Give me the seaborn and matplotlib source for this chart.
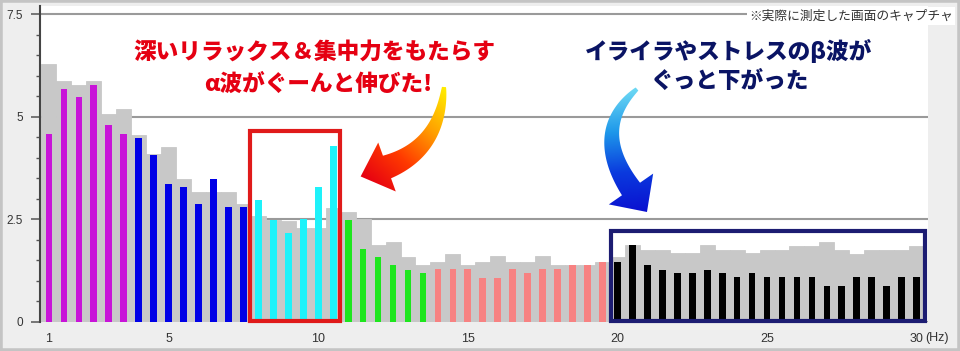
import numpy as np
import pandas as pd
import matplotlib
matplotlib.use("Agg")
import matplotlib.pyplot as plt
import seaborn as sns
from matplotlib.path import Path
from matplotlib.patches import PathPatch, Rectangle
from matplotlib.colors import LinearSegmentedColormap

# ---------------- data ----------------
freqs = np.arange(1.0, 30.01, 0.5)  # Hz, 59 bins

before = [6.28, 5.87, 5.77, 5.88, 5.08, 5.19,
          4.56, 4.10, 4.27, 3.48, 3.16, 3.16, 3.16, 2.87,
          2.59, 2.48, 2.45, 2.29, 2.28, 2.79,
          2.67, 2.51, 1.88, 1.96, 1.58, 1.39,
          1.47, 1.66, 1.39, 1.47, 1.60, 1.47, 1.47, 1.60, 1.39, 1.39, 1.39, 1.47,
          1.59, 1.88, 1.76, 1.76, 1.67, 1.67, 1.87, 1.76, 1.76, 1.67, 1.76,
          1.76, 1.86, 1.86, 1.96, 1.76, 1.66, 1.76, 1.76, 1.76, 1.86]

after = [4.57, 5.68, 5.48, 5.77, 4.80, 4.57,
         4.48, 4.08, 3.37, 3.28, 2.88, 3.48, 2.80, 2.80,
         2.98, 2.49, 2.17, 2.50, 3.28, 4.29,
         2.48, 1.77, 1.59, 1.39, 1.27, 1.19,
         1.28, 1.28, 1.28, 1.08, 1.08, 1.28, 1.20, 1.28, 1.28, 1.39, 1.39, 1.47,
         1.47, 1.88, 1.39, 1.27, 1.19, 1.19, 1.27, 1.19, 1.09, 1.19, 1.09,
         1.09, 1.09, 1.09, 0.88, 0.88, 1.09, 1.09, 0.88, 1.09, 1.09]

band_names = ["delta", "theta", "alpha", "smr", "mid_beta", "high_beta"]
band_sizes = [6, 8, 6, 6, 12, 21]
band_colors = {"delta": "#c814d8", "theta": "#0000e6", "alpha": "#1ef2fa",
               "smr": "#1ee61e", "mid_beta": "#f78282", "high_beta": "#000000"}
bands = [b for b, n in zip(band_names, band_sizes) for _ in range(n)]

xtick_vals = [1, 5, 10, 15, 20, 25, 30]
xtick_labels = ["1", "5", "10", "15", "20", "25", "30"]
ytick_vals = [0, 2.5, 5, 7.5]
ytick_labels = ["0", "2.5", "5", "7.5"]

df = pd.DataFrame({"freq": freqs, "before": before, "after": after, "band": bands})

# ---------------- figure ----------------
W, H = 960, 351
fig = plt.figure(figsize=(W / 100, H / 100), dpi=100, facecolor="#eeeeee")
ax = fig.add_axes([40 / W, 29 / H, 888 / W, 316 / H])
ax.set_facecolor("white")

sns.barplot(data=df, x="freq", y="before", native_scale=True, width=1.0,
            color="#c8c8c8", saturation=1, linewidth=0.6, edgecolor="#c8c8c8",
            errorbar=None, ax=ax, zorder=2)
sns.barplot(data=df, x="freq", y="after", hue="band", palette=band_colors,
            hue_order=band_names, native_scale=True, width=0.45, dodge=False,
            saturation=1, linewidth=0, errorbar=None, legend=False, ax=ax, zorder=3)

ax.set_xlim(0.70, 30.38)
ax.set_ylim(0, 7.7)
ax.set_xlabel("")
ax.set_ylabel("")

num_font = ["Liberation Sans", "DejaVu Sans"]
ax.set_xticks(xtick_vals)
ax.set_xticklabels(xtick_labels, family=num_font, fontsize=9, color="#333333")
ax.set_yticks(ytick_vals)
ax.set_yticklabels(ytick_labels, family=num_font, fontsize=8.5, color="#333333")
ax.set_yticks(np.arange(0, 7.51, 0.5), minor=True)
ax.tick_params(axis="x", length=0, pad=8)
ax.tick_params(axis="y", which="major", length=6.5, width=1.1, color="#555555", pad=6)
ax.tick_params(axis="y", which="minor", length=3, width=1.0, color="#555555")

for s in ["top", "right", "bottom"]:
    ax.spines[s].set_visible(False)
ax.spines["left"].set_color("#444444")
ax.spines["left"].set_linewidth(1.5)

ax.set_axisbelow(True)
ax.yaxis.grid(True, which="major", color="#9a9a9a", linewidth=1.5)
ax.xaxis.grid(False)

# band highlight boxes
ax.add_patch(Rectangle((7.73, 0.03), 10.74 - 7.73, 4.65 - 0.03, fill=False,
                       edgecolor="#e01a1a", linewidth=3, zorder=6, clip_on=False))
ax.add_patch(Rectangle((19.77, 0.03), 30.29 - 19.77, 2.22 - 0.03, fill=False,
                       edgecolor="#1c1c72", linewidth=3, zorder=6, clip_on=False))

# ---------------- overlay (annotations) ----------------
ov = fig.add_axes([0, 0, 1, 1], zorder=10)
ov.set_xlim(0, W)
ov.set_ylim(H, 0)
ov.axis("off")
ov.patch.set_alpha(0)

jp = ["Noto Sans CJK JP", "DejaVu Sans"]
red = "#e50012"
navy = "#0a1464"
fs = 16.3
ov.text(314, 52, "深いリラックス＆集中力をもたらす", ha="center", va="center",
        fontsize=fs, fontweight="heavy", color=red, family=jp)
ov.text(318, 84, "α波がぐーんと伸びた!", ha="center", va="center",
        fontsize=fs, fontweight="heavy", color=red, family=jp)
ov.text(729, 52, "イライラやストレスのβ波が", ha="center", va="center",
        fontsize=fs, fontweight="heavy", color=navy, family=jp)
ov.text(730, 81, "ぐっと下がった", ha="center", va="center",
        fontsize=fs, fontweight="heavy", color=navy, family=jp)

ov.text(953, 16, "※実際に測定した画面のキャプチャ", ha="right", va="center",
        fontsize=9.2, color="#333333", family=jp,
        bbox=dict(facecolor="white", edgecolor="none", pad=1.5))
ov.text(925, 338.5, "(Hz)", ha="left", va="center", fontsize=9,
        color="#333333", family=num_font)


def gradient_arrow(p0, p1, p2, w0, w1, head_w, head_len, colors):
    p0, p1, p2 = map(np.asarray, (p0, p1, p2))
    t = np.linspace(0, 1, 80)[:, None]
    P = (1 - t) ** 2 * p0 + 2 * (1 - t) * t * p1 + t ** 2 * p2
    dP = 2 * (1 - t) * (p1 - p0) + 2 * t * (p2 - p1)
    tang = dP / np.linalg.norm(dP, axis=1)[:, None]
    nrm = np.column_stack([-tang[:, 1], tang[:, 0]])
    w = (w0 + (w1 - w0) * t[:, 0] ** 0.8)[:, None]
    left = P + nrm * w / 2
    right = P - nrm * w / 2
    tip = p2 + tang[-1] * head_len
    hl = p2 + nrm[-1] * head_w / 2
    hr = p2 - nrm[-1] * head_w / 2
    verts = np.vstack([left, hl, tip, hr, right[::-1], left[:1]])
    codes = [Path.MOVETO] + [Path.LINETO] * (len(verts) - 2) + [Path.CLOSEPOLY]
    patch = PathPatch(Path(verts, codes), facecolor="none", edgecolor="none",
                      transform=ov.transData)
    ov.add_patch(patch)
    x0, x1 = verts[:, 0].min() - 2, verts[:, 0].max() + 2
    y0, y1 = verts[:, 1].min() - 2, verts[:, 1].max() + 2
    xs = np.linspace(x0, x1, 200)
    ys = np.linspace(y0, y1, 200)
    X, Y = np.meshgrid(xs, ys)
    d = tip - p0
    G = ((X - p0[0]) * d[0] + (Y - p0[1]) * d[1]) / (d @ d)
    G = np.clip(G, 0, 1)
    cmap = LinearSegmentedColormap.from_list("g", colors)
    im = ov.imshow(G, extent=(x0, x1, y1, y0), origin="upper", cmap=cmap,
                   vmin=0, vmax=1, aspect="auto", zorder=5, interpolation="bilinear")
    im.set_clip_path(patch)


gradient_arrow((444, 87), (440, 148), (387, 167), 4, 24, 52, 28,
               ["#ffee00", "#ffa000", "#ff3a00", "#e60012"])
gradient_arrow((637, 89), (590, 130), (631, 189), 4, 22, 54, 28,
               ["#6cd8f4", "#1e98ea", "#0a3ade", "#0a10d0"])
ov.set_xlim(0, W)
ov.set_ylim(H, 0)

# outer frame
fig.patches.append(Rectangle((0, 0), 1, 1, transform=fig.transFigure, fill=False,
                             edgecolor="#c4c4c4", linewidth=4))

fig.savefig("out.png", dpi=100, facecolor=fig.get_facecolor())
